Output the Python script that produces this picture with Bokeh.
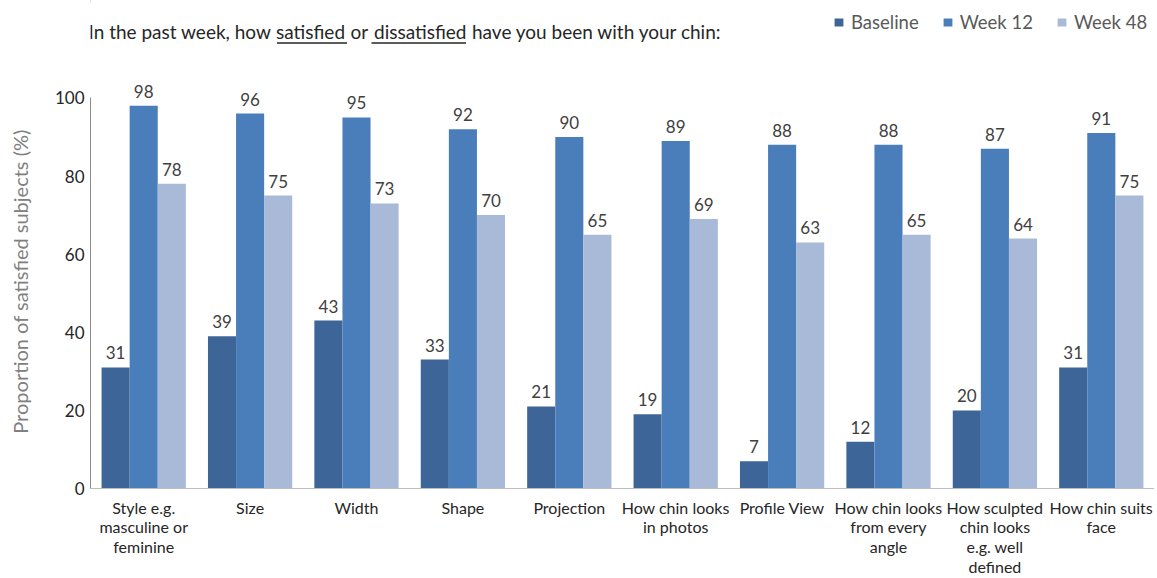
from bokeh.plotting import figure
from bokeh.layouts import column
from bokeh.models import (ColumnDataSource, FactorRange, Range1d, LabelSet,
                          Legend, LegendItem, FixedTicker)
from bokeh.core.properties import value
from bokeh.transform import dodge
from bokeh.embed import file_html
from bokeh.resources import INLINE

categories = ["Style e.g.\nmasculine or\nfeminine", "Size", "Width", "Shape", "Projection",
              "How chin looks\nin photos", "Profile View", "How chin looks\nfrom every\nangle",
              "How sculpted\nchin looks\ne.g. well\ndefined", "How chin suits\nface"]
baseline = [31, 39, 43, 33, 21, 19, 7, 12, 20, 31]
week12 = [98, 96, 95, 92, 90, 89, 88, 88, 87, 91]
week48 = [78, 75, 73, 70, 65, 69, 63, 65, 64, 75]
series_names = ["Baseline", "Week 12", "Week 48"]
y_ticks = [0, 20, 40, 60, 80, 100]
title_parts = ["In the past week, how", "satisfied", "or", "dissatisfied",
               "have you been with your chin:"]

colors = ["#3E6598", "#4A7EBB", "#A9B9D8"]
FONT = "Lato"
TEXT_DARK = "#262626"
LEFT = 90          # width of the left panel (y axis area)
FRAME_W = 1064
TOP_H = 74

# ---------------- header: question text + legend ----------------
# The header frame is aligned with the chart frame by the column layout,
# so its x range is expressed in canvas pixels from LEFT to LEFT + FRAME_W.
head = figure(width=LEFT + FRAME_W, height=TOP_H,
              x_range=Range1d(LEFT, LEFT + FRAME_W), y_range=Range1d(TOP_H, 0),
              x_axis_type=None, y_axis_type=None, output_backend="svg",
              toolbar_location=None, min_border=0)
head.outline_line_color = None
head.grid.visible = False

title_x = [88, 275.5, 350, 373.5, 471.5]
head.text(x=title_x, y=[31] * len(title_parts), text=title_parts,
          text_font=value(FONT), text_font_size="19px", text_color=TEXT_DARK,
          text_baseline="middle", text_align="left")
# underlines of "satisfied" and " dissatisfied"
head.segment(x0=[276.5, 371], x1=[346.5, 465.5], y0=[42.5, 42.5], y1=[42.5, 42.5],
             line_color=TEXT_DARK, line_width=1.4)

# legend swatches (renderers whose single point lies outside the visible range)
legend_rs = [head.vbar(x=[-1000], top=[1], width=1, fill_color=c, line_color=None)
             for c in colors]
legend = Legend(items=[LegendItem(label=n, renderers=[r]) for n, r in zip(series_names, legend_rs)],
                orientation="horizontal", location=(833 - LEFT, 41),
                glyph_width=11, glyph_height=10, label_standoff=7, spacing=23,
                padding=0, margin=0, border_line_color=None, background_fill_alpha=0,
                label_text_font=FONT, label_text_font_size="18.5px",
                label_text_color="#595959")
head.add_layout(legend, "center")

# ---------------- main bar chart ----------------
src = ColumnDataSource(dict(
    cat=categories,
    baseline=baseline, week12=week12, week48=week48,
    baseline_t=[str(v) for v in baseline],
    week12_t=[str(v) for v in week12],
    week48_t=[str(v) for v in week48],
))

p = figure(frame_width=FRAME_W, frame_height=414,
           x_range=FactorRange(factors=categories, range_padding=0),
           y_range=Range1d(0, 106), output_backend="svg", toolbar_location=None,
           min_border_left=LEFT, min_border_right=0, min_border_top=0, min_border_bottom=0)
p.outline_line_color = None
p.xgrid.grid_line_color = None
p.ygrid.grid_line_color = None

bw = 0.264
offsets = [-bw, 0.0, bw]
cols = ["baseline", "week12", "week48"]
for off, col, c in zip(offsets, cols, colors):
    p.vbar(x=dodge("cat", off, range=p.x_range), top=col, width=bw, source=src,
           fill_color=c, line_color=None)
    p.add_layout(LabelSet(x=dodge("cat", off, range=p.x_range), y=col, text=col + "_t",
                          source=src, text_align="center", text_baseline="alphabetic",
                          y_offset=8, text_font=value(FONT), text_font_size="17px",
                          text_color="#404040"))

p.yaxis.ticker = FixedTicker(ticks=y_ticks)
p.yaxis.bounds = (0, 100)
p.yaxis.major_tick_line_color = None
p.yaxis.minor_tick_line_color = None
p.yaxis.major_tick_out = 0
p.yaxis.major_tick_in = 0
p.yaxis.axis_line_color = "#8C8C8C"
p.yaxis.major_label_text_font = FONT
p.yaxis.major_label_text_font_size = "17px"
p.yaxis.major_label_text_color = TEXT_DARK
p.yaxis.major_label_standoff = 6
p.yaxis.axis_label = "Proportion of satisfied subjects (%)"
p.yaxis.axis_label_text_font = FONT
p.yaxis.axis_label_text_font_size = "20px"
p.yaxis.axis_label_text_font_style = "normal"
p.yaxis.axis_label_text_color = "#808080"
p.yaxis.axis_label_standoff = 20

p.xaxis.major_tick_line_color = None
p.xaxis.minor_tick_line_color = None
p.xaxis.major_tick_out = 0
p.xaxis.major_tick_in = 0
p.xaxis.axis_line_color = "#BFBFBF"
p.xaxis.major_label_text_font = FONT
p.xaxis.major_label_text_font_size = "16px"
p.xaxis.major_label_text_color = TEXT_DARK
p.xaxis.major_label_text_line_height = 1.04
p.xaxis.major_label_standoff = 9

layout = column(head, p, spacing=0)
open("out.html", "w").write(file_html(layout, INLINE))
